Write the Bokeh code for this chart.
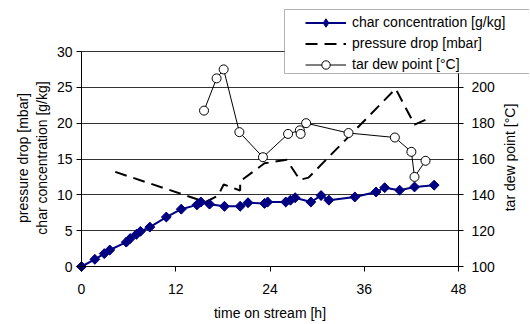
import math
from bokeh.plotting import figure
from bokeh.models import (Range1d, LinearAxis, FixedTicker, Legend, LegendItem,
                          BoxAnnotation, Label)
from bokeh.embed import file_html
from bokeh.resources import INLINE

# ---- data ----
char_t = [0, 1.7, 2.9, 3.6, 5.7, 6.2, 7.0, 7.5, 8.7, 10.8, 12.7, 14.7, 15.2, 16.3,
          18.2, 20.2, 21.2, 23.3, 23.7, 26.0, 26.6, 27.2, 29.2, 30.5, 31.5, 34.8,
          37.5, 38.6, 40.5, 42.4, 44.9]
char_c = [0, 1.0, 1.8, 2.3, 3.4, 3.9, 4.5, 4.9, 5.5, 6.9, 8.0, 8.6, 9.0, 8.7,
          8.4, 8.4, 8.9, 8.8, 9.0, 9.0, 9.25, 9.6, 9.0, 9.9, 9.25, 9.7,
          10.4, 11.0, 10.65, 11.1, 11.35]

press_t = [4.3, 15.8, 17.4, 18.1, 20.2, 20.2, 23.3, 26.1, 27.8, 28.9, 40.0, 42.4, 43.9]
press_v = [13.2, 9.0, 9.9, 11.45, 10.6, 11.9, 14.4, 14.9, 12.1, 12.4, 24.8, 19.8, 20.5]

tar_t = [15.6, 17.2, 18.1, 20.1, 23.1, 26.3, 27.8, 27.9, 28.6, 34.0, 39.9, 42.0, 42.4, 43.8]
tar_T = [187, 205, 210, 175, 161, 174, 176, 174, 180, 174.5, 172, 164, 150, 159]

x_ticks = [0, 12, 24, 36, 48]
left_ticks = [0, 5, 10, 15, 20, 25, 30]
right_ticks = [100, 120, 140, 160, 180, 200]

FONT = "Liberation Sans"
FS = "14px"
NAVY = "#000080"

# ---- geometry: the plotting frame fills the whole canvas; the axes are drawn
# at fixed data locations so that titles and the legend box (which sit outside
# the data area) are not clipped.
W, H = 529, 323
PX0, PX1 = 81, 458      # canvas x of t=0 and t=48
PY0, PY1 = 266, 51      # canvas y of the axis minimum and maximum
X_MIN, X_MAX = 0, 48
L_MIN, L_MAX = 0, 30
R_MIN, R_MAX = 100, 220


def span(v0, v1, p0, p1, lo, hi):
    k = (v1 - v0) / (p1 - p0)
    return v0 + (lo - p0) * k, v0 + (hi - p0) * k


xs, xe = span(X_MIN, X_MAX, PX0, PX1, 0, W)
ls, le = span(L_MIN, L_MAX, PY0, PY1, H, 0)
rs, re_ = span(R_MIN, R_MAX, PY0, PY1, H, 0)

p = figure(width=W, height=H, output_backend="svg", toolbar_location=None,
           title=None, x_range=Range1d(xs, xe), y_range=Range1d(ls, le),
           min_border=0, min_border_left=0, min_border_right=0,
           min_border_top=0, min_border_bottom=0)
p.extra_y_ranges = {"tar": Range1d(rs, re_)}
p.outline_line_color = None
p.background_fill_color = "white"
p.border_fill_color = "white"


def style_axis(ax, standoff):
    ax.axis_line_color = "black"
    ax.major_tick_line_color = "black"
    ax.major_tick_out = 5
    ax.major_tick_in = 0
    ax.minor_tick_line_color = None
    ax.major_label_text_font = FONT
    ax.major_label_text_font_size = FS
    ax.major_label_text_color = "black"
    ax.major_label_standoff = standoff


xa = p.xaxis[0]
xa.ticker = FixedTicker(ticks=x_ticks)
xa.bounds = (X_MIN, X_MAX)
xa.fixed_location = L_MIN
style_axis(xa, 12)

ya = p.yaxis[0]
ya.ticker = FixedTicker(ticks=left_ticks)
ya.bounds = (L_MIN, L_MAX)
ya.fixed_location = X_MIN
style_axis(ya, 4)

ra = LinearAxis(y_range_name="tar", ticker=FixedTicker(ticks=right_ticks),
                bounds=(R_MIN, R_MAX), fixed_location=X_MAX)
style_axis(ra, 8)
p.add_layout(ra, "right")

# grid: horizontal lines only, between t=0 and t=48
p.xgrid.visible = False
yg = p.ygrid[0]
yg.ticker = FixedTicker(ticks=left_ticks)
yg.grid_line_color = "#333333"
yg.grid_line_width = 1
if "cross_bounds" in yg.properties():
    yg.cross_bounds = (X_MIN, X_MAX)
else:
    yg.visible = False
    p.segment(x0=[X_MIN] * len(left_ticks), x1=[X_MAX] * len(left_ticks),
              y0=left_ticks, y1=left_ticks, line_color="#333333", line_width=1)

# ---- series ----
press = p.line(press_t, press_v, line_color="black", line_width=2, line_dash="12 7")
tar_line = p.line(tar_t, tar_T, y_range_name="tar", line_color="black", line_width=1)
tar_pts = p.scatter(tar_t, tar_T, y_range_name="tar", marker="circle", size=9,
                    fill_color="white", line_color="black", line_width=1)
char_line = p.line(char_t, char_c, line_color=NAVY, line_width=2)
# diamond key for the legend (hidden beneath the rotated-square markers)
char_key = p.scatter(char_t, char_c, marker="diamond", size=9,
                     fill_color=NAVY, line_color=NAVY)
char_pts = p.scatter(char_t, char_c, marker="square", angle=math.pi / 4, size=7,
                     fill_color=NAVY, line_color=NAVY)

# ---- axis titles (screen units from the canvas bottom-left) ----
titles = [("pressure drop [mbar]", 22, H - 157.5, math.pi / 2),
          ("char concentration [g/kg]", 41, H - 157.5, math.pi / 2),
          ("tar dew point [°C]", 509, H - 157, math.pi / 2),
          ("time on stream [h]", 269.5, H - 312, 0)]
for txt, sx, sy, ang in titles:
    p.add_layout(Label(x=sx, y=sy, x_units="screen", y_units="screen", text=txt,
                       angle=ang, text_align="center", text_baseline="middle",
                       text_font=FONT, text_font_size=FS, text_color="black"))

# ---- legend ----
box = BoxAnnotation(left=284, right=700, top=H - 9, bottom=H - 73,
                    left_units="screen", right_units="screen",
                    top_units="screen", bottom_units="screen",
                    fill_color="white", fill_alpha=1, line_color="black", line_width=1)
p.add_layout(box)

legend = Legend(items=[LegendItem(label="char concentration [g/kg]", renderers=[char_line, char_key]),
                       LegendItem(label="pressure drop [mbar]", renderers=[press]),
                       LegendItem(label="tar dew point [°C]", renderers=[tar_line, tar_pts])],
                location=(305, H - 74.5), padding=1, spacing=0, margin=0,
                glyph_height=21, label_height=21, glyph_width=41, label_standoff=6,
                border_line_color=None, background_fill_alpha=0,
                label_text_font=FONT, label_text_font_size=FS, label_text_color="black")
p.add_layout(legend)

open("out.html", "w").write(file_html(p, INLINE))
